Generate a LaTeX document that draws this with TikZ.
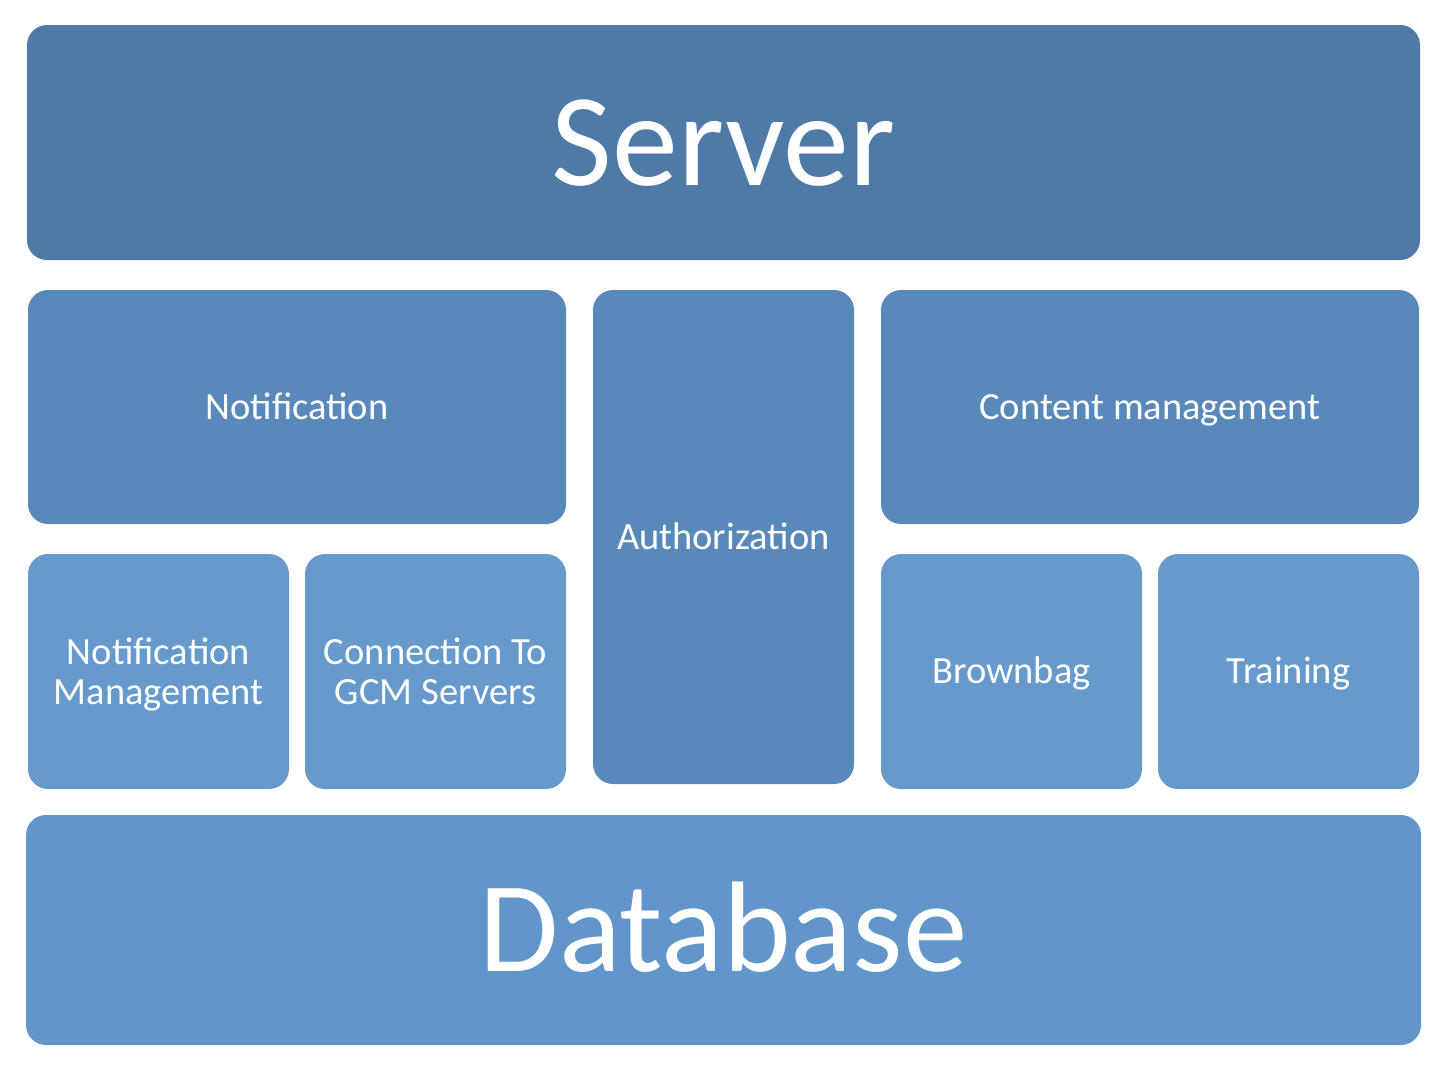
\documentclass[tikz,border=0pt]{standalone}
\usepackage{fontspec}
\setmainfont{Carlito}
\definecolor{srvc}{RGB}{79,122,167}
\definecolor{midc}{RGB}{89,137,186}
\definecolor{lowc}{RGB}{102,153,204}
\definecolor{dbc}{RGB}{98,150,202}
\tikzset{
  blk/.style={rectangle, rounded corners=20pt, draw=none, inner sep=0pt,
    text=white, align=center, text depth=0pt},
  small/.style={blk, font=\fontsize{38.5}{40.5}\selectfont, text height=24.8pt},
  two/.style={blk, font=\fontsize{38.5}{40.5}\selectfont, text height=66pt, text depth=0pt},
}
\begin{document}
\begin{tikzpicture}[x=1pt,y=-1pt]
\useasboundingbox (0,0) rectangle (1446,1066);
\node[blk, fill=srvc, minimum width=1393pt, minimum height=235pt, text height=85pt,
      font=\fontsize{132}{140}\selectfont] (srv) at (723.5,142.5) {Server};
\node[small, fill=midc, minimum width=538pt, minimum height=234pt] (notif) at (297,407) {Notification};
\node[small, fill=midc, minimum width=261pt, minimum height=494pt] (auth) at (723.5,537) {Authorization};
\node[small, fill=midc, minimum width=538pt, minimum height=234pt] (cont) at (1150,407) {Content management};
\node[two, fill=lowc, minimum width=261pt, minimum height=235pt] (nm) at (158.5,671.5) {Notification\\Management};
\node[two, fill=lowc, minimum width=261pt, minimum height=235pt] (gcm) at (435.5,671.5) {Connection To\\GCM Servers};
\node[small, fill=lowc, minimum width=261pt, minimum height=235pt] (brown) at (1011.5,671.5) {Brownbag};
\node[small, fill=lowc, minimum width=261pt, minimum height=235pt] (train) at (1288.5,671.5) {Training};
\node[blk, fill=dbc, minimum width=1395pt, minimum height=230pt, text height=83pt,
      font=\fontsize{129}{136}\selectfont] (db) at (723.5,930) {Database};
\end{tikzpicture}
\end{document}
